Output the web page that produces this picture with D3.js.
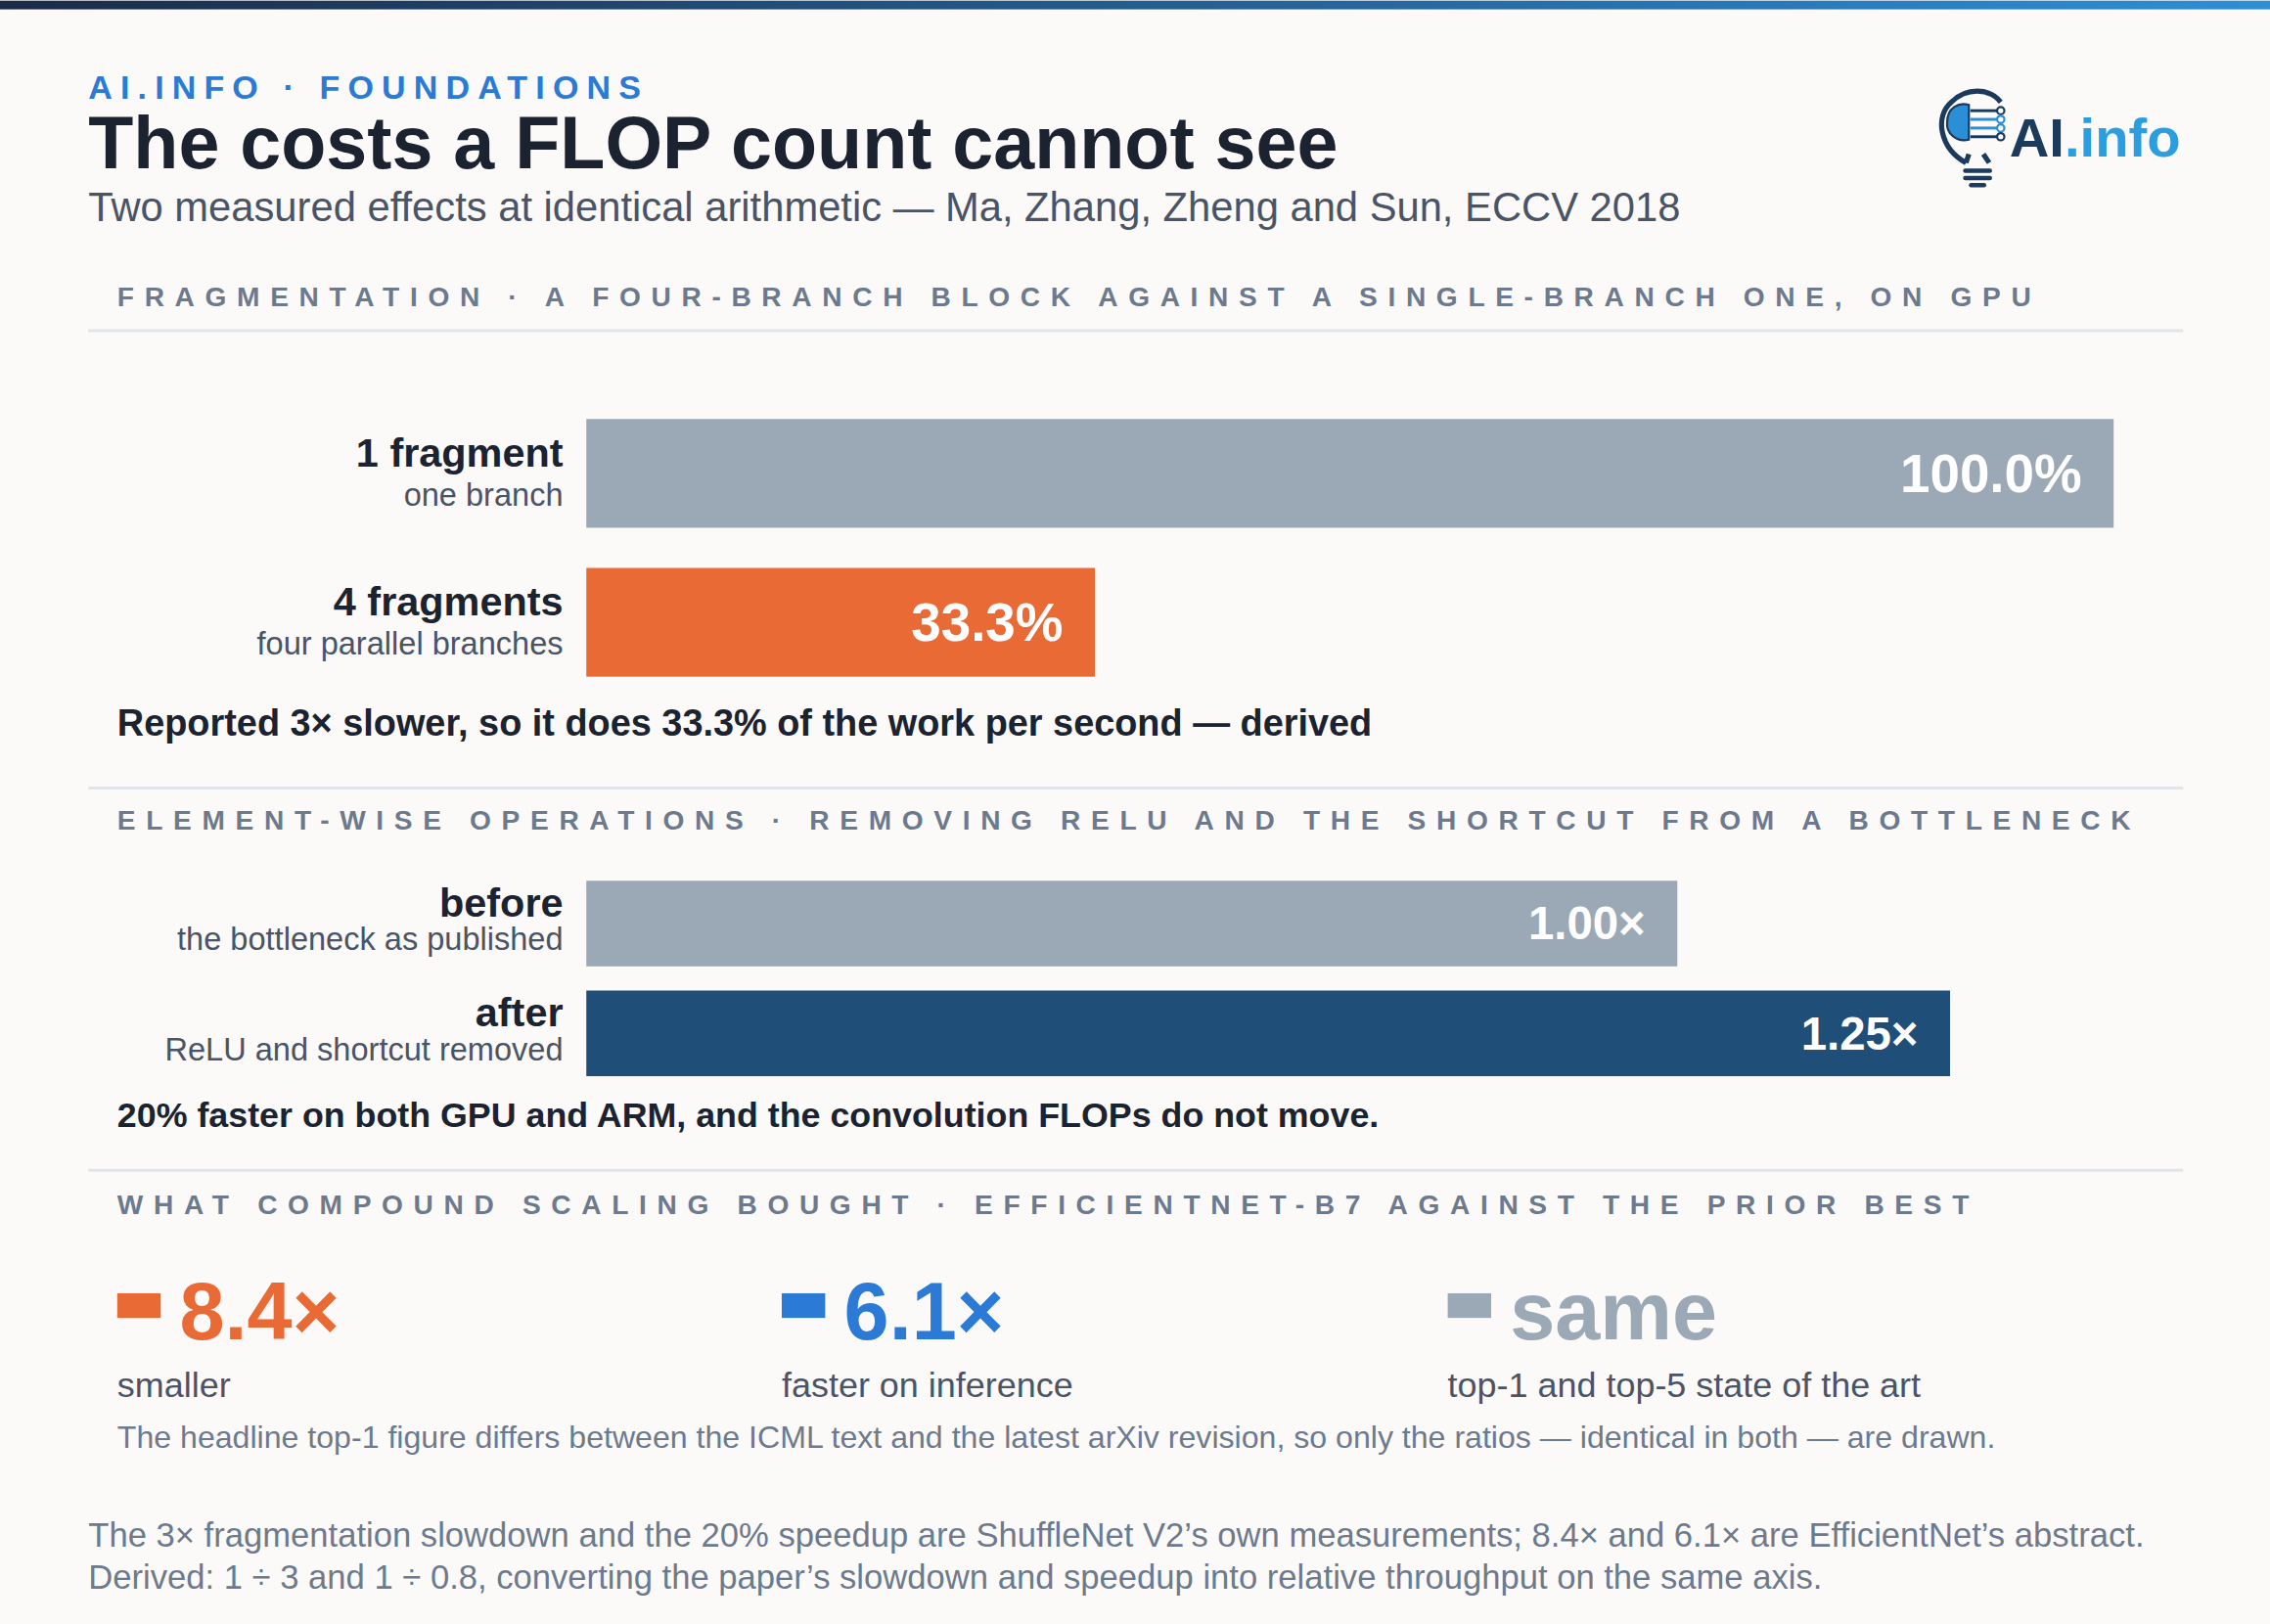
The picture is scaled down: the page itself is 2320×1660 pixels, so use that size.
<!DOCTYPE html>
<html><head><meta charset="utf-8">
<script src="https://cdn.jsdelivr.net/npm/d3@7"></script>
<style>
body{margin:0;background:#fbfaf8;}
svg{display:block;font-family:"Liberation Sans",Arial,sans-serif;}
</style></head><body>
<svg id="c" width="2320" height="1660" viewBox="0 0 1568 1121"></svg>
<script>
// fragmentation section
var fragCats = ["1 fragment", "4 fragments"];
var fragSubs = ["one branch", "four parallel branches"];
var fragVals = [100.0, 33.3];
// element-wise section
var eltCats = ["before", "after"];
var eltSubs = ["the bottleneck as published", "ReLU and shortcut removed"];
var eltVals = [1.00, 1.25];
// compound scaling
var stats = ["8.4×", "6.1×", "same"];
var statLabels = ["smaller", "faster on inference", "top-1 and top-5 state of the art"];

var svg = d3.select("#c");
var W = 1568;
svg.append("rect").attr("width", W).attr("height", 1121).attr("fill", "#fbfaf8");

var defs = svg.append("defs");
var g = defs.append("linearGradient").attr("id", "topg");
g.append("stop").attr("offset", "0").attr("stop-color", "#1b2b48");
g.append("stop").attr("offset", "1").attr("stop-color", "#2e8fd6");
svg.append("rect").attr("width", W).attr("height", 6).attr("fill", "url(#topg)");

function txt(x, y, s, size, fill, weight, extra){
    var t = svg.append("text").attr("x", x).attr("y", y).text(s)
        .attr("font-size", size).attr("fill", fill).attr("font-weight", weight || "normal");
    if(extra){ for(var k in extra) t.attr(k, extra[k]); }
    return t;
}

txt(61, 68, "AI.INFO · FOUNDATIONS", 23, "#2a7ad6", "bold", {"letter-spacing": "5.5"});
txt(61, 116, "The costs a FLOP count cannot see", 51, "#1b2230", "bold");
txt(61, 152, "Two measured effects at identical arithmetic — Ma, Zhang, Zheng and Sun, ECCV 2018", 28.2, "#4a5466");

// logo
var lg = svg.append("g").attr("transform", "translate(1336,62)");
lg.append("path").attr("d", "M22,50 C4,40 0,18 12,8 C22,-2 38,-2 46,8").attr("fill", "none").attr("stroke", "#1b3a5c").attr("stroke-width", 3.5);
lg.append("path").attr("d", "M22,50 L24,44 M34,44 L38,50").attr("fill", "none").attr("stroke", "#1b3a5c").attr("stroke-width", 3.5);
lg.append("path").attr("d", "M9,22 C9,12 17,8 24,10 L24,34 C16,36 8,30 9,22 Z").attr("fill", "#2a8fd6").attr("stroke", "#1b3a5c").attr("stroke-width", 1.5);
[[14,"#1b3a5c"],[20,"#2a8fd6"],[26,"#2a8fd6"],[32,"#1b3a5c"]].forEach(function(d){
    lg.append("line").attr("x1", 25).attr("x2", 44).attr("y1", d[0]).attr("y2", d[0]).attr("stroke", d[1]).attr("stroke-width", 2);
    lg.append("circle").attr("cx", 46).attr("cy", d[0]).attr("r", 2.5).attr("fill", "#fff").attr("stroke", d[1]).attr("stroke-width", 1.5);
});
[54,59].forEach(function(y){ lg.append("rect").attr("x", 20).attr("y", y).attr("width", 20).attr("height", 3).attr("rx", 1.5).attr("fill", "#1b3a5c"); });
lg.append("rect").attr("x", 24).attr("y", 64).attr("width", 12).attr("height", 3).attr("rx", 1.5).attr("fill", "#1b3a5c");
var lt = txt(1388, 108, "AI", 38, "#1b3a5c", "bold");
lt.append("tspan").text(".info").attr("fill", "#2a9ee0");

function section(y, label, lineY){
    txt(81, y, label, 19, "#6d7a8e", "bold", {"letter-spacing": "7.2"});
    if(lineY) svg.append("line").attr("x1", 61).attr("x2", 1508).attr("y1", lineY).attr("y2", lineY).attr("stroke", "#e1e4e8").attr("stroke-width", 2);
}
section(211, "FRAGMENTATION · A FOUR-BRANCH BLOCK AGAINST A SINGLE-BRANCH ONE, ON GPU", 228);

// fragmentation bars
var x1 = d3.scaleLinear().domain([0, 100]).range([405, 1460]);
var y1 = d3.scaleBand().domain(fragCats).range([289, 467]).paddingInner(0.27).paddingOuter(0);
var fragCol = ["#9ba9b6", "#ea6a35"];
fragCats.forEach(function(c, i){
    var y = y1(c), h = y1.bandwidth();
    svg.append("rect").attr("x", x1(0)).attr("y", y).attr("width", x1(fragVals[i]) - x1(0)).attr("height", h).attr("fill", fragCol[i]);
    txt(x1(fragVals[i]) - 22, y + h / 2 + 13, fragVals[i].toFixed(1) + "%", 37, "#fff", "bold", {"text-anchor": "end"});
    txt(389, y + 33, c, 28, "#1b2230", "bold", {"text-anchor": "end"});
    txt(389, y + 60, fragSubs[i], 22, "#4a5466", "normal", {"text-anchor": "end"});
});
txt(81, 508, "Reported 3× slower, so it does 33.3% of the work per second — derived", 25.6, "#1b2230", "bold");

section(573, "ELEMENT-WISE OPERATIONS · REMOVING RELU AND THE SHORTCUT FROM A BOTTLENECK", 544);
var x2 = d3.scaleLinear().domain([0, 1.25]).range([405, 1347]);
var y2 = d3.scaleBand().domain(eltCats).range([608, 743]).paddingInner(0.22).paddingOuter(0);
var eltCol = ["#9ba9b6", "#1f4e78"];
eltCats.forEach(function(c, i){
    var y = y2(c), h = y2.bandwidth();
    svg.append("rect").attr("x", x2(0)).attr("y", y).attr("width", x2(eltVals[i]) - x2(0)).attr("height", h).attr("fill", eltCol[i]);
    txt(x2(eltVals[i]) - 22, y + h / 2 + 11, eltVals[i].toFixed(2) + "×", 32, "#fff", "bold", {"text-anchor": "end"});
    txt(389, y + 25, c, 28, "#1b2230", "bold", {"text-anchor": "end"});
    txt(389, y + 48, eltSubs[i], 22, "#4a5466", "normal", {"text-anchor": "end"});
});
txt(81, 778, "20% faster on both GPU and ARM, and the convolution FLOPs do not move.", 24.2, "#1b2230", "bold");

svg.append("line").attr("x1", 61).attr("x2", 1508).attr("y1", 808).attr("y2", 808).attr("stroke", "#e1e4e8").attr("stroke-width", 2);
section(838, "WHAT COMPOUND SCALING BOUGHT · EFFICIENTNET-B7 AGAINST THE PRIOR BEST");

var statX = d3.scaleOrdinal().domain(stats).range([81, 540, 1000]);
var statCol = ["#ea6a35", "#2a7ad6", "#9ba9b6"];
stats.forEach(function(s, i){
    var x = statX(s);
    svg.append("rect").attr("x", x).attr("y", 893).attr("width", 30).attr("height", 17).attr("fill", statCol[i]);
    txt(x + 43, 925, s, 56, statCol[i], "bold");
    txt(x, 965, statLabels[i], 24.3, "#4a5466");
});
txt(81, 1000, "The headline top-1 figure differs between the ICML text and the latest arXiv revision, so only the ratios — identical in both — are drawn.", 21.7, "#6d7a8e");

txt(61, 1068, "The 3× fragmentation slowdown and the 20% speedup are ShuffleNet V2’s own measurements; 8.4× and 6.1× are EfficientNet’s abstract.", 23.4, "#6d7a8e");
txt(61, 1097, "Derived: 1 ÷ 3 and 1 ÷ 0.8, converting the paper’s slowdown and speedup into relative throughput on the same axis.", 23.4, "#6d7a8e");
</script>
</body></html>
